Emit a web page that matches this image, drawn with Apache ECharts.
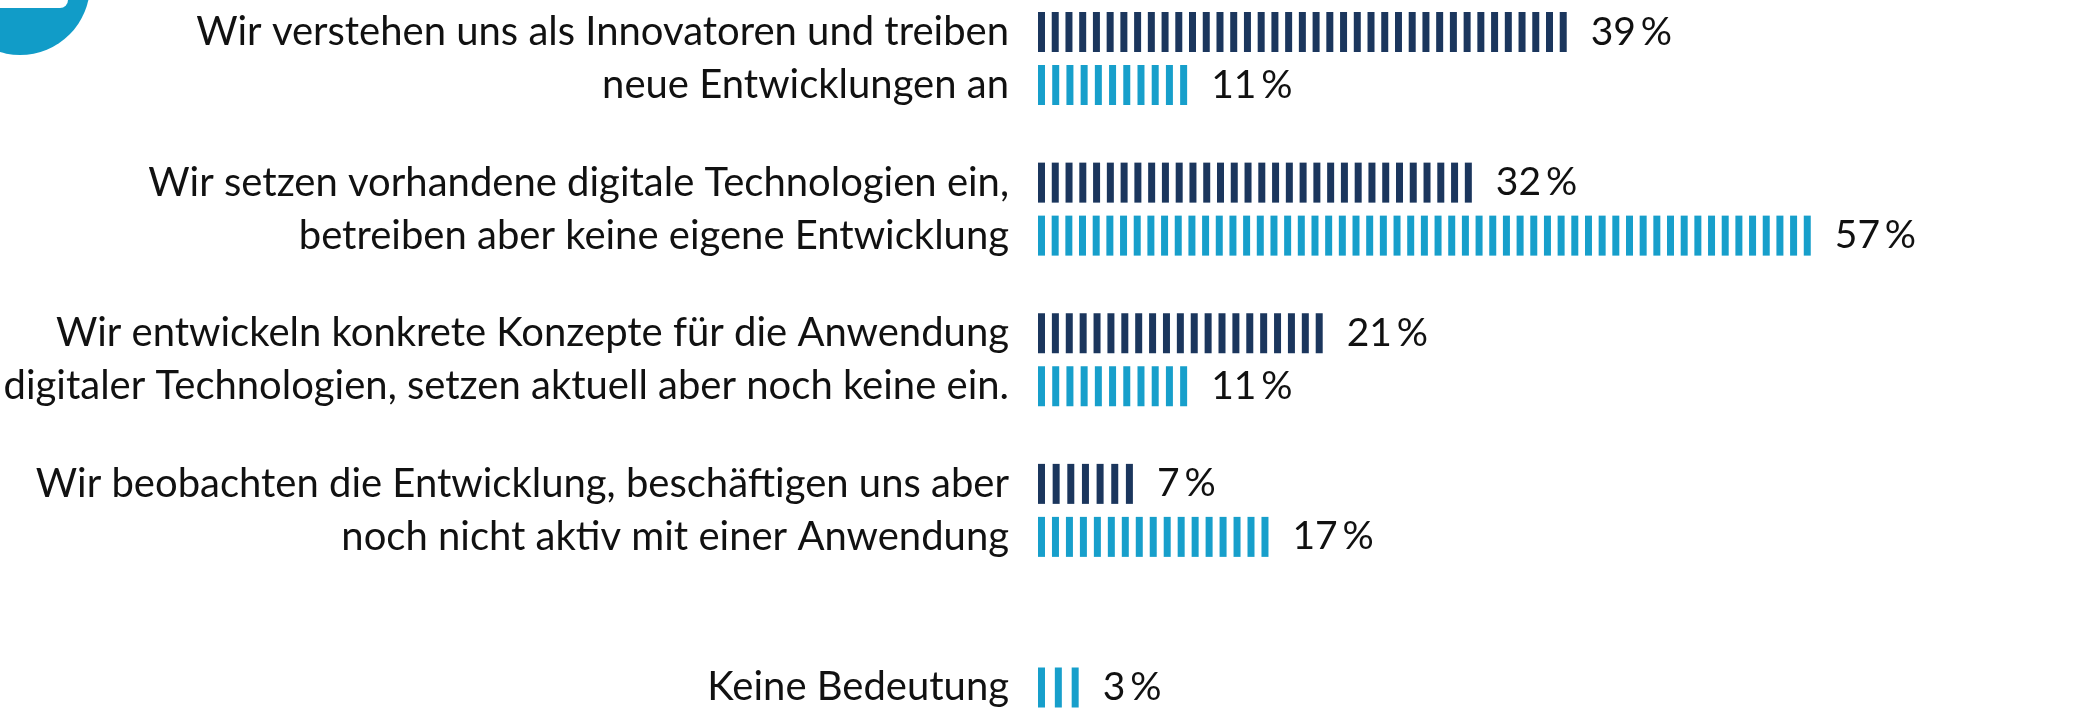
<!DOCTYPE html>
<html>
<head>
<meta charset="utf-8">
<script src="https://cdn.jsdelivr.net/npm/echarts@6/dist/echarts.min.js"></script>
<style>
  html, body { margin: 0; padding: 0; background: #fff; }
  #chart { width: 2077px; height: 714px; }
</style>
</head>
<body>
<div id="chart"></div>
<script>
// Kategorien (zweizeilig, jede Zeile gehört zu einem Balken)
const categories = [
  'Wir verstehen uns als Innovatoren und treiben\nneue Entwicklungen an',
  'Wir setzen vorhandene digitale Technologien ein,\nbetreiben aber keine eigene Entwicklung',
  'Wir entwickeln konkrete Konzepte für die Anwendung\ndigitaler Technologien, setzen aktuell aber noch keine ein.',
  'Wir beobachten die Entwicklung, beschäftigen uns aber\nnoch nicht aktiv mit einer Anwendung',
  '\nKeine Bedeutung'
];
// Werte in Prozent
const darkValues = [39, 32, 21, 7, null];
const lightValues = [11, 57, 11, 17, 3];

const darkColor = '#1b365d';
const lightColor = '#179fcb';

const chart = echarts.init(document.getElementById('chart'));

// ein Strich pro Prozentpunkt, Fläche nur bis zum Wert
function toItems(values) {
  return values.map(v => (v == null ? '-' : { value: v, symbolRepeat: v, symbolBoundingData: v }));
}

const labelStyle = {
  show: true,
  position: 'right',
  distance: 24,
  fontFamily: 'Lato',
  fontSize: 39,
  color: '#111',
  formatter: p => p.value + '\u2009%'
};

const option = {
  animation: false,
  grid: { left: 1038, right: 90, top: 58.5, bottom: 46 },
  xAxis: {
    type: 'value',
    min: 0,
    max: 70,
    show: false
  },
  yAxis: {
    type: 'category',
    inverse: true,
    boundaryGap: false,
    data: categories,
    axisLine: { show: false },
    axisTick: { show: false },
    splitLine: { show: false },
    axisLabel: {
      margin: 29,
      fontFamily: 'Lato',
      fontSize: 40,
      lineHeight: 53,
      color: '#111'
    }
  },
  series: [
    {
      name: 'dunkel',
      type: 'pictorialBar',
      symbol: 'rect',
      symbolSize: [7, 40],
      barWidth: 40,
      barGap: '32.5%',
      itemStyle: { color: darkColor },
      label: labelStyle,
      data: toItems(darkValues)
    },
    {
      name: 'hell',
      type: 'pictorialBar',
      symbol: 'rect',
      symbolSize: [7, 40],
      barWidth: 40,
      barGap: '32.5%',
      itemStyle: { color: lightColor },
      label: labelStyle,
      data: toItems(lightValues)
    }
  ],
  graphic: [
    {
      type: 'circle',
      shape: { cx: 20, cy: -15, r: 70 },
      style: { fill: '#119cc8' }
    },
    {
      type: 'rect',
      shape: { x: -10, y: -20, width: 78, height: 28, r: 8 },
      style: { fill: '#fff' }
    }
  ]
};

chart.setOption(option);
</script>
</body>
</html>
